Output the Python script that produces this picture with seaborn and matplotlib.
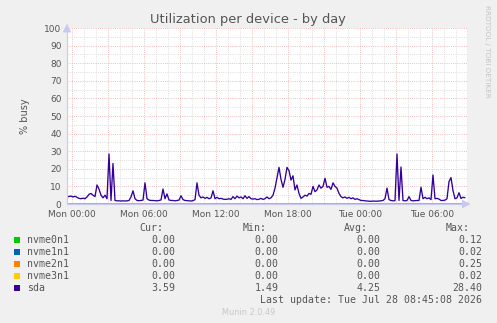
import numpy as np
import pandas as pd
import matplotlib
matplotlib.use("Agg")
import matplotlib.pyplot as plt
import matplotlib.dates as mdates
from matplotlib.patches import Rectangle
import seaborn as sns

# ---------------- data ----------------
title = "Utilization per device - by day"
ylabel = "% busy"
devices = ["nvme0n1", "nvme1n1", "nvme2n1", "nvme3n1", "sda"]
colors = ["#00CC00", "#0066B3", "#FF8000", "#FFCC00", "#330099"]
cur_vals = ["0.00", "0.00", "0.00", "0.00", "3.59"]
min_vals = ["0.00", "0.00", "0.00", "0.00", "1.49"]
avg_vals = ["0.00", "0.00", "0.00", "0.00", "4.25"]
max_vals = ["0.12", "0.02", "0.25", "0.02", "28.40"]
last_update = "Last update: Tue Jul 28 08:45:08 2026"
footer = "Munin 2.0.49"
watermark = "RRDTOOL / TOBI OETIKER"
xtick_labels = ["Mon 00:00", "Mon 06:00", "Mon 12:00", "Mon 18:00", "Tue 00:00", "Tue 06:00"]

start_time = "2026-07-26 23:35"

# sda, 10-minute samples
sda = [4.0, 4.3, 4.5, 4.0, 4.4, 3.8, 3.2, 3.0, 3.3, 3.0,
       4.0, 5.5, 6.0, 5.0, 4.2, 10.8, 8.5, 5.0, 3.5, 5.0,
       3.0, 28.4, 2.0, 23.0, 2.0, 1.8, 1.8, 1.7, 1.8, 1.7,
       1.8, 2.0, 4.0, 7.5, 3.0, 2.0, 1.9, 2.0, 2.2, 12.0,
       3.0, 2.2, 2.0, 2.0, 1.9, 1.8, 2.0, 2.3, 8.5, 3.0,
       5.7, 2.3, 2.0, 2.0, 1.8, 2.0, 2.2, 4.7, 2.5, 2.0,
       1.9, 1.8, 1.7, 1.9, 2.5, 12.0, 5.0, 3.5, 4.0, 3.2,
       3.8, 3.0, 3.4, 7.5, 3.0, 3.8, 3.0, 3.2, 2.8, 2.6,
       2.7, 3.0, 2.6, 4.2, 3.0, 4.5, 3.5, 4.0, 3.0, 4.7,
       3.2, 4.2, 3.0, 2.8, 3.0, 2.5, 2.7, 3.2, 2.6, 3.0,
       4.0, 3.0, 3.5, 5.0, 9.0, 15.0, 20.8, 14.0, 9.5, 14.0,
       20.8, 19.0, 13.6, 16.0, 8.0, 10.8, 6.0, 3.2, 4.0, 5.0,
       4.5, 6.0, 5.5, 10.0, 7.0, 8.0, 10.8, 9.0, 10.0, 14.6,
       9.5, 10.0, 8.3, 12.0, 10.0, 9.0, 6.0, 4.2, 3.5, 4.0,
       3.2, 3.8, 3.0, 3.5, 2.6, 3.0, 2.5, 2.0, 2.0, 1.8,
       1.7, 1.6, 1.5, 1.7, 1.6, 1.6, 1.7, 1.8, 2.0, 3.0,
       9.0, 2.5, 2.0, 1.8, 1.9, 28.4, 2.0, 21.0, 2.0, 1.8,
       2.0, 4.2, 2.0, 1.8, 1.9, 2.0, 2.0, 9.5, 3.0, 3.8,
       3.0, 3.5, 2.5, 16.5, 3.0, 3.2, 2.8, 2.0, 2.0, 2.2,
       3.0, 12.7, 15.0, 7.6, 3.0, 3.5, 6.4, 3.2, 3.8, 3.59]

# nvme devices, hourly samples (essentially idle)
nvme0n1 = [0.0, 0.0, 0.0, 0.01, 0.0, 0.0, 0.0, 0.0, 0.12, 0.0, 0.0, 0.0,
           0.0, 0.0, 0.01, 0.0, 0.0, 0.0, 0.0, 0.0, 0.0, 0.0, 0.0, 0.0,
           0.0, 0.0, 0.0, 0.0, 0.01, 0.0, 0.0, 0.0, 0.0, 0.0]
nvme1n1 = [0.0, 0.0, 0.0, 0.0, 0.0, 0.0, 0.02, 0.0, 0.0, 0.0, 0.0, 0.0,
           0.0, 0.0, 0.0, 0.0, 0.0, 0.0, 0.0, 0.0, 0.0, 0.01, 0.0, 0.0,
           0.0, 0.0, 0.0, 0.0, 0.0, 0.0, 0.0, 0.0, 0.0, 0.0]
nvme2n1 = [0.0, 0.0, 0.0, 0.0, 0.0, 0.0, 0.0, 0.0, 0.0, 0.0, 0.0, 0.25,
           0.0, 0.0, 0.0, 0.0, 0.0, 0.0, 0.0, 0.0, 0.0, 0.0, 0.0, 0.0,
           0.0, 0.0, 0.0, 0.0, 0.0, 0.0, 0.0, 0.0, 0.0, 0.0]
nvme3n1 = [0.0, 0.0, 0.0, 0.0, 0.0, 0.0, 0.0, 0.0, 0.0, 0.0, 0.0, 0.0,
           0.0, 0.0, 0.0, 0.0, 0.0, 0.02, 0.0, 0.0, 0.0, 0.0, 0.0, 0.0,
           0.0, 0.0, 0.0, 0.0, 0.0, 0.0, 0.0, 0.0, 0.0, 0.0]

# ---------------- build frame ----------------
frames = []
for name, vals, freq in [("nvme0n1", nvme0n1, "60min"), ("nvme1n1", nvme1n1, "60min"),
                         ("nvme2n1", nvme2n1, "60min"), ("nvme3n1", nvme3n1, "60min"),
                         ("sda", sda, "10min")]:
    t = pd.date_range(start_time, periods=len(vals), freq=freq)
    frames.append(pd.DataFrame({"time": t, "value": vals, "device": name}))
df = pd.concat(frames, ignore_index=True)

# ---------------- style ----------------
sns.set_style("white")
plt.rcParams["font.family"] = ["DejaVu Sans"]
TXT = "#555555"
W, H = 497, 323

fig = plt.figure(figsize=(W / 100, H / 100), dpi=100, facecolor="#F0F0F0")
ax = fig.add_axes([67 / W, (H - 204) / H, 400 / W, 176 / H])
ax.set_facecolor("white")

sns.lineplot(data=df, x="time", y="value", hue="device", hue_order=devices,
             palette=colors, ax=ax, legend=False, linewidth=0.95)

t0 = pd.Timestamp(start_time)
ax.set_xlim(t0, t0 + pd.Timedelta(minutes=2000))
ax.set_ylim(0, 100)

# ticks / grid
ax.set_yticks(np.arange(0, 101, 10))
ax.set_yticks(np.arange(5, 100, 10), minor=True)
major_x = pd.date_range("2026-07-27 00:00", periods=11, freq="3h")
ax.set_xticks(major_x)
ax.set_xticklabels([xtick_labels[i // 2] if i % 2 == 0 else "" for i in range(len(major_x))])
ax.xaxis.set_minor_locator(mdates.HourLocator())

ax.grid(which="major", color="#EDA8A8", linestyle=(0, (1, 1.6)), linewidth=0.6)
ax.grid(which="minor", color="#D4D4D4", linestyle=(0, (1, 1.6)), linewidth=0.6)
ax.set_axisbelow(True)

ax.tick_params(axis="both", which="major", labelsize=6.5, labelcolor=TXT,
               length=2, width=0.7, color="#E08080", pad=2)
ax.tick_params(axis="both", which="minor", length=0)
ax.set_xlabel("")
ax.set_ylabel(ylabel, fontsize=7, color=TXT, labelpad=10)

for s in ["top", "right"]:
    ax.spines[s].set_visible(False)
for s in ["left", "bottom"]:
    ax.spines[s].set_color("#C8C8F4")
    ax.spines[s].set_linewidth(0.8)

ax.annotate("", xy=(0, 1.04), xytext=(0, 0.99), xycoords="axes fraction",
            arrowprops=dict(arrowstyle="-|>,head_length=0.5,head_width=0.25",
                            color="#C8C8F4", lw=0.8), annotation_clip=False)
ax.annotate("", xy=(1.016, 0), xytext=(0.99, 0), xycoords="axes fraction",
            arrowprops=dict(arrowstyle="-|>,head_length=0.5,head_width=0.25",
                            color="#C8C8F4", lw=0.8), annotation_clip=False)

# title & watermark
fig.text(247.5 / W, 1 - 19 / H, title, ha="center", va="center", fontsize=9.4, color=TXT)
fig.text(487.5 / W, 1 - 5 / H, watermark, ha="center", va="top", rotation=270,
         fontsize=5.2, color="#C4C4C4")

# legend table
MONO = "DejaVu Sans Mono"
FS = 7.1
def fy(y):
    return 1 - y / H

hdr_x = [163.3, 266.7, 368.0, 470.0]
val_x = [175.7, 278.3, 380.7, 482.3]
for hx, lab in zip(hdr_x, ["Cur:", "Min:", "Avg:", "Max:"]):
    fig.text(hx / W, fy(228), lab, ha="right", va="center", family=MONO, fontsize=FS, color=TXT)

for i, name in enumerate(devices):
    y = 240 + 12 * i
    fig.add_artist(Rectangle((14 / W, fy(y + 2.7)), 5.5 / W, 5.5 / H,
                             transform=fig.transFigure, facecolor=colors[i], edgecolor="none"))
    fig.text(26.7 / W, fy(y), name, ha="left", va="center", family=MONO, fontsize=FS, color=TXT)
    for vx, col in zip(val_x, [cur_vals, min_vals, avg_vals, max_vals]):
        fig.text(vx / W, fy(y), col[i], ha="right", va="center", family=MONO, fontsize=FS, color=TXT)

fig.text(482.3 / W, fy(300), last_update, ha="right", va="center", family=MONO, fontsize=FS, color=TXT)
fig.text(249 / W, fy(312.3), footer, ha="center", va="center", fontsize=5.9, color="#C8C8C8")

fig.savefig("out.png", dpi=100, facecolor=fig.get_facecolor())
